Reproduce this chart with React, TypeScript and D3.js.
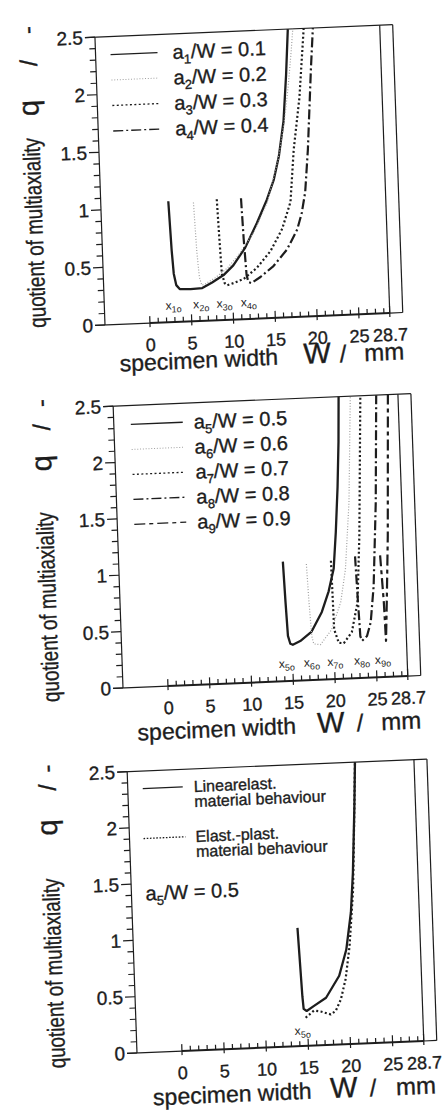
import React, { useRef, useEffect } from 'react';
import * as d3 from 'd3';

type Pt = [number, number];

// [specimen width W in mm, quotient of multiaxiality q]
const curveA1: Pt[] = [[2.7, 1.05], [2.9, 0.62], [3.05, 0.42], [3.3, 0.32], [3.7, 0.285], [5.0, 0.28], [6.4, 0.285], [7.6, 0.33], [9.0, 0.39], [10.2, 0.47], [11.7, 0.62], [13.2, 0.83], [14.5, 1.03], [15.4, 1.2], [16.1, 1.4], [16.8, 1.7], [17.3, 2.1], [17.7, 2.5]];
const curveA2: Pt[] = [[5.7, 1.03], [5.9, 0.6], [6.1, 0.38], [6.35, 0.31], [6.8, 0.32], [8.0, 0.37], [9.5, 0.45], [11.0, 0.57], [12.8, 0.75], [14.5, 1.0], [16.0, 1.37], [16.9, 1.7], [17.5, 2.0], [18.0, 2.3], [18.3, 2.5]];
const curveA3: Pt[] = [[8.5, 1.05], [8.65, 0.7], [8.8, 0.4], [9.1, 0.32], [9.4, 0.3], [10.3, 0.32], [11.4, 0.35], [13.0, 0.44], [14.7, 0.58], [16.2, 0.77], [17.3, 1.0], [17.9, 1.45], [18.8, 1.9], [19.2, 2.2], [19.6, 2.5]];
const curveA4: Pt[] = [[11.4, 1.05], [11.55, 0.7], [11.75, 0.38], [11.95, 0.32], [12.3, 0.31], [13.4, 0.36], [15.0, 0.45], [16.7, 0.59], [18.0, 0.76], [18.6, 0.9], [19.1, 1.08], [19.6, 1.45], [19.9, 1.75], [20.3, 2.15], [20.7, 2.5]];

const curveA5: Pt[] = [[14.25, 1.06], [14.4, 0.7], [14.55, 0.4], [14.8, 0.33], [15.1, 0.32], [16.0, 0.35], [17.4, 0.43], [18.7, 0.6], [19.6, 0.78], [20.3, 0.98], [20.7, 1.3], [21.1, 1.7], [21.4, 2.1], [21.6, 2.5]];
const curveA6: Pt[] = [[17.05, 1.03], [17.2, 0.7], [17.4, 0.39], [17.6, 0.32], [18.4, 0.31], [19.8, 0.44], [21.0, 0.68], [21.7, 0.97], [22.4, 1.56], [23.0, 2.5]];
const curveA7: Pt[] = [[20.0, 1.05], [20.05, 0.75], [20.1, 0.44], [20.6, 0.32], [21.2, 0.315], [22.2, 0.41], [23.0, 0.67], [23.5, 1.26], [24.2, 2.5]];
const curveA8: Pt[] = [[22.9, 1.08], [23.05, 0.7], [23.2, 0.37], [23.4, 0.33], [24.0, 0.37], [24.5, 0.49], [25.0, 0.81], [25.6, 1.55], [26.1, 2.5]];
const curveA9: Pt[] = [[25.9, 1.08], [26.15, 0.66], [26.25, 0.32], [26.5, 0.66], [26.9, 1.25], [27.5, 2.5]];

const curveLinElastic: Pt[] = [[14.2, 1.05], [14.5, 0.44], [14.6, 0.33], [14.95, 0.31], [15.8, 0.35], [17.3, 0.42], [18.95, 0.61], [19.9, 0.84], [20.6, 1.17], [21.0, 1.52], [21.45, 2.11], [21.7, 2.5]];
const curveElastPlast: Pt[] = [[14.8, 0.25], [15.8, 0.31], [16.6, 0.3], [17.8, 0.27], [18.4, 0.3], [19.05, 0.4], [19.7, 0.58], [20.3, 0.87], [20.95, 1.37], [21.45, 2.11], [21.7, 2.5]];

const ratiosTop = ['0.1', '0.2', '0.3', '0.4'];
const ratiosMid = ['0.5', '0.6', '0.7', '0.8', '0.9'];
const indexTop = ['1', '2', '3', '4'];
const indexMid = ['5', '6', '7', '8', '9'];
const minimaTop = [2.9, 6.2, 9.0, 11.9];
const minimaMid = [14.3, 17.3, 20.1, 23.3, 25.8];
const minimaBottom = [14.4];

const yTicks = [0, 0.5, 1, 1.5, 2, 2.5];
const yTickLabels = ['0', '0.5', '1', '1.5', '2', '2.5'];
const xTicks = [0, 5, 10, 15, 20, 25, 28.7];
const xTickLabels = ['0', '5', '10', '15', '20', '25', '28.7'];

const W_MAX = 28.7;
const Q_MAX = 2.5;
const FONT = '"Liberation Sans", Arial, sans-serif';
const INK = '#1d1d1d';

const styles: Record<string, { dash: string | null; width: number; color: string; legend: number }> = {
    solid: { dash: null, width: 2.3, color: INK, legend: 1.3 },
    grayDot: { dash: '1 1.8', width: 1.2, color: '#a0a0a0', legend: 1 },
    dot: { dash: '2 2.4', width: 2.2, color: INK, legend: 1.3 },
    dashDot: { dash: '10 3 2 3', width: 2.2, color: INK, legend: 1.3 },
    longShort: { dash: '11 4 4 4', width: 2.2, color: INK, legend: 1.3 },
};

const panels = [
    {
        px: 105, py: 325, h: 288, xEnd: 285,
        series: [[curveA1, 'solid'], [curveA2, 'grayDot'], [curveA3, 'dot'], [curveA4, 'dashDot']],
        legend: { ratios: ratiosTop, idx: indexTop, styles: ['solid', 'grayDot', 'dot', 'dashDot'], l0: 15, l1: 62, tx: 77, y0: -270, step: 25.5 },
        minima: minimaTop, minIdx: indexTop, minQ: 0.11,
        title: { u: -67, start: 0, q: -220, slash: -265, dash: -298 },
        xTitle: { y: 47, u: [92.6, 211, 237, 278] },
    },
    {
        px: 123, py: 688, h: 282, xEnd: 285,
        series: [[curveA5, 'solid'], [curveA6, 'grayDot'], [curveA7, 'dot'], [curveA8, 'dashDot'], [curveA9, 'longShort']],
        legend: { ratios: ratiosMid, idx: indexMid, styles: ['solid', 'grayDot', 'dot', 'dashDot', 'longShort'], l0: 17, l1: 69, tx: 80, y0: -263, step: 25 },
        minima: minimaMid, minIdx: indexMid, minQ: 0.12,
        title: { u: -72, start: 11, q: -228, slash: -264, dash: -288 },
        xTitle: { y: 53, u: [92.3, 206.6, 235.6, 277] },
    },
    {
        px: 137, py: 1053, h: 281.5, xEnd: 287,
        series: [[curveLinElastic, 'solid'], [curveElastPlast, 'dot']],
        legend: null,
        minima: minimaBottom, minIdx: ['5'], minQ: 0.1,
        title: { u: -80, start: 12, q: -229, slash: -269, dash: -288 },
        xTitle: { y: 53, u: [93.8, 205.6, 234.6, 277.7] },
    },
];

function applyStyle(sel: any, key: string, legend = false) {
    const s = styles[key];
    sel.attr('fill', 'none')
        .attr('stroke', s.color)
        .attr('stroke-width', legend ? s.legend : s.width)
        .attr('stroke-linejoin', 'round');
    if (s.dash) sel.attr('stroke-dasharray', s.dash);
}

function drawPanel(svg: any, p: any) {
    // the scan is slightly rotated/sheared, so each panel sits in its own tilted frame
    const ax = (2.4 * Math.PI) / 180, ay = (2.0 * Math.PI) / 180;
    const g = svg.append('g')
        .attr('transform', `matrix(${Math.cos(ax)},${-Math.sin(ax)},${Math.sin(ay)},${Math.cos(ay)},${p.px},${p.py})`)
        .attr('font-family', FONT)
        .attr('fill', INK);

    const x = d3.scaleLinear().domain([0, W_MAX]).range([45, p.xEnd]);
    const y = d3.scaleLinear().domain([0, Q_MAX]).range([0, -p.h]);
    const outer = p.xEnd + 13;

    const frame = g.append('g').attr('stroke', INK).attr('fill', 'none').attr('stroke-width', 1.2);
    const seg = (x1: number, y1: number, x2: number, y2: number, w = 1.2) =>
        frame.append('line').attr('x1', x1).attr('y1', y1).attr('x2', x2).attr('y2', y2).attr('stroke-width', w);
    seg(-10, y(Q_MAX), outer, y(Q_MAX));
    seg(0, y(0), 0, y(Q_MAX));
    seg(x(W_MAX), y(0), x(W_MAX), y(Q_MAX));
    seg(outer, y(0), outer, y(Q_MAX));
    seg(x(W_MAX), y(0), outer, y(0));
    seg(-10, y(0), x(0), y(0));
    seg(x(0), y(0), x(W_MAX), y(0), 2);

    // texts get a hairline stroke so they read as heavy as the scanned lettering
    const txt = g.append('g').attr('stroke', INK).attr('stroke-width', 0.35);

    // y ticks
    const yMinor = d3.range(0.1, Q_MAX, 0.1).filter(v => Math.abs(v * 2 - Math.round(v * 2)) > 1e-6);
    frame.selectAll('line.ymin').data(yMinor).enter().append('line')
        .attr('x1', -6).attr('x2', 0).attr('y1', d => y(d)).attr('y2', d => y(d));
    frame.selectAll('line.ymaj').data(yTicks).enter().append('line')
        .attr('x1', -10).attr('x2', 0).attr('y1', d => y(d)).attr('y2', d => y(d));
    txt.selectAll('text.ylab').data(yTicks).enter().append('text')
        .attr('x', -12).attr('y', d => y(d)).attr('dy', '0.35em')
        .attr('text-anchor', 'end').attr('font-size', 19)
        .text((d, i) => yTickLabels[i]);

    // x ticks (pointing into the plot)
    const xMinor = d3.range(1, 29).filter(v => v % 5 !== 0);
    frame.selectAll('line.xmin').data(xMinor).enter().append('line')
        .attr('x1', d => x(d)).attr('x2', d => x(d)).attr('y1', 0).attr('y2', -5);
    frame.selectAll('line.xmaj').data(xTicks).enter().append('line')
        .attr('x1', d => x(d)).attr('x2', d => x(d)).attr('y1', 4).attr('y2', -7);
    txt.selectAll('text.xlab').data(xTicks).enter().append('text')
        .attr('x', d => x(d)).attr('y', 28)
        .attr('text-anchor', 'middle').attr('font-size', 18)
        .text((d, i) => xTickLabels[i]);

    // curves
    const line = d3.line<Pt>().x(d => x(d[0])).y(d => y(d[1]));
    p.series.forEach(([data, key]: [Pt[], string]) => {
        applyStyle(g.append('path').attr('d', line(data)), key);
    });

    // minimum markers x_io
    p.minima.forEach((w: number, i: number) => {
        const t = g.append('text').attr('x', x(w)).attr('y', y(p.minQ))
            .attr('text-anchor', 'middle').attr('font-size', 12);
        t.append('tspan').text('x');
        t.append('tspan').attr('font-size', 9).attr('dy', 3).text(`${p.minIdx[i]}o`);
    });

    // legend
    if (p.legend) {
        const L = p.legend;
        L.ratios.forEach((r: string, i: number) => {
            const yy = L.y0 + i * L.step;
            applyStyle(g.append('line').attr('x1', L.l0).attr('x2', L.l1).attr('y1', yy).attr('y2', yy), L.styles[i], true);
            const t = txt.append('text').attr('x', L.tx).attr('y', yy).attr('dy', '0.35em').attr('font-size', 20);
            t.append('tspan').text('a');
            t.append('tspan').attr('font-size', 13).attr('dy', 5).text(L.idx[i]);
            t.append('tspan').attr('dy', -5).text(`/W = ${r}`);
        });
    } else {
        applyStyle(g.append('line').attr('x1', 15).attr('x2', 55).attr('y1', -264).attr('y2', -264), 'solid', true);
        const dl = g.append('line').attr('x1', 14).attr('x2', 56).attr('y1', -214).attr('y2', -214);
        applyStyle(dl, 'dot', true);
        dl.attr('stroke-dasharray', '1.6 1.6');
        const rows: [number, number, string][] = [
            [66, -264, 'Linearelast.'], [66, -249, 'material behaviour'],
            [66, -214, 'Elast.-plast.'], [66, -199, 'material behaviour'],
        ];
        rows.forEach(([u, yy, s]) => {
            txt.append('text').attr('x', u).attr('y', yy).attr('dy', '0.35em').attr('font-size', 16).text(s);
        });
        const t = txt.append('text').attr('x', 14).attr('y', -159).attr('dy', '0.35em').attr('font-size', 20);
        t.append('tspan').text('a');
        t.append('tspan').attr('font-size', 13).attr('dy', 5).text('5');
        t.append('tspan').attr('dy', -5).text('/W = 0.5');
    }

    // y title
    const T = p.title;
    txt.append('text')
        .attr('transform', `translate(${T.u + 8},${T.start}) rotate(-90)`)
        .attr('font-size', 24).attr('textLength', 190).attr('lengthAdjust', 'spacingAndGlyphs')
        .text('quotient of multiaxiality');
    [[T.q, 'q', 29], [T.slash, '/', 24], [T.dash, '-', 24]].forEach(([yy, s, fs]) => {
        txt.append('text')
            .attr('transform', `translate(${T.u + 8},${yy}) rotate(-90)`)
            .attr('text-anchor', 'middle').attr('font-size', fs as number).text(s as string);
    });

    // x title
    const X = p.xTitle;
    [['specimen width', 23], ['W', 29], ['/', 24], ['mm', 24]].forEach(([s, fs], i) => {
        txt.append('text').attr('x', X.u[i]).attr('y', X.y)
            .attr('text-anchor', 'middle').attr('font-size', fs as number).text(s as string);
    });
}

export default function App() {
    const ref = useRef<SVGSVGElement>(null);

    useEffect(() => {
        const svg = d3.select(ref.current);
        svg.selectAll('*').remove();
        panels.forEach(p => drawPanel(svg, p));
    }, []);

    return (
        <svg ref={ref} width={444} height={1117}
            style={{ position: 'absolute', left: 0, top: 0, background: '#fff' }} />
    );
}
